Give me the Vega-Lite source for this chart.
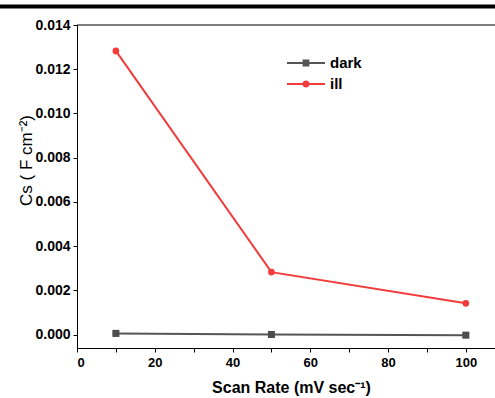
{
  "$schema": "https://vega.github.io/schema/vega-lite/v6.json",
  "width": 418,
  "height": 323,
  "autosize": {"type": "none"},
  "padding": {"left": 77, "top": 25, "right": 0, "bottom": 50},
  "background": "white",
  "config": {
    "view": {"stroke": null},
    "font": "Liberation Sans",
    "axis": {
      "domainColor": "black",
      "tickColor": "black",
      "labelColor": "black",
      "titleColor": "black",
      "grid": false,
      "labelFont": "Liberation Sans",
      "titleFont": "Liberation Sans",
      "labelFontWeight": "bold",
      "labelFontSize": 13
    }
  },
  "datasets": {
    "series": [
      {"rate": 10, "cs": 0.00006, "cond": "dark"},
      {"rate": 50, "cs": 0.00001, "cond": "dark"},
      {"rate": 100, "cs": -0.00002, "cond": "dark"},
      {"rate": 10, "cs": 0.01283, "cond": "ill"},
      {"rate": 50, "cs": 0.00283, "cond": "ill"},
      {"rate": 100, "cs": 0.00142, "cond": "ill"}
    ],
    "bar": [
      {"x1": -20, "x2": 108, "y": 0.01484, "w": "bar"},
      {"x1": 0, "x2": 107.5, "y": 0.014, "w": "frame"}
    ]
  },
  "layer": [
    {
      "data": {"name": "series"},
      "mark": {"type": "line", "strokeWidth": 2},
      "encoding": {
        "x": {
          "field": "rate", "type": "quantitative",
          "scale": {"domain": [0, 107.5], "nice": false, "zero": false},
          "axis": {
            "orient": "bottom",
            "values": [0, 10, 20, 30, 40, 50, 60, 70, 80, 90, 100],
            "labelExpr": "round(datum.value) % 20 === 0 ? datum.label : ''",
            "format": "d",
            "tickSize": 4,
            "labelPadding": 4,
            "title": "Scan Rate (mV sec⁻¹)",
            "titleFontSize": 16,
            "titleFontWeight": "bold",
            "titleX": 214,
            "titlePadding": 10,
            "encode": {
              "ticks": {"update": {"y2": {"signal": "round(datum.value) % 20 === 10 ? 2 : 4"}}}
            }
          }
        },
        "y": {
          "field": "cs", "type": "quantitative",
          "scale": {"domain": [-0.0006, 0.014], "nice": false, "zero": false},
          "axis": {
            "orient": "left",
            "values": [0, 0.001, 0.002, 0.003, 0.004, 0.005, 0.006, 0.007, 0.008, 0.009, 0.01, 0.011, 0.012, 0.013, 0.014],
            "labelExpr": "round(datum.value * 1000) % 2 === 0 ? datum.label : ''",
            "format": ".3f",
            "tickSize": 4,
            "labelPadding": 3,
            "labelFontSize": 14,
            "title": "Cs ( F cm⁻²)",
            "titleFontSize": 17,
            "titleFontWeight": "normal",
            "titleX": -51,
            "titleY": 135,
            "titleAlign": "center",
            "titleBaseline": "middle",
            "titleAngle": -90,
            "encode": {
              "ticks": {"update": {"x2": {"signal": "round(datum.value * 1000) % 2 === 1 ? -2 : -4"}}}
            }
          }
        },
        "color": {
          "field": "cond", "type": "nominal",
          "scale": {"domain": ["dark", "ill"], "range": ["#555555", "#f23b3b"]},
          "legend": {
            "orient": "none",
            "legendX": 210,
            "legendY": 31,
            "title": null,
            "labelFont": "Liberation Sans",
            "labelFontSize": 15,
            "labelFontWeight": "bold",
            "labelColor": "black",
            "labelOffset": 5,
            "symbolSize": 1444,
            "clipHeight": 14,
            "rowPadding": 6,
            "encode": {
              "symbols": {
                "update": {
                  "shape": {"signal": "datum.value === 'dark' ? 'M-1,-0.05H1V0.05H-1Z M-0.18,-0.18H0.18V0.18H-0.18Z' : 'M-1,-0.05H1V0.05H-1Z M0.19,0A0.19,0.19 0 1,1 -0.19,0A0.19,0.19 0 1,1 0.19,0Z'"},
                  "fill": {"signal": "scale('color', datum.value)"},
                  "stroke": {"value": "transparent"},
                  "strokeWidth": {"value": 0}
                }
              }
            }
          }
        }
      }
    },
    {
      "data": {"name": "series"},
      "transform": [{"filter": "datum.cond === 'dark'"}],
      "mark": {"type": "point", "filled": true, "opacity": 1, "shape": "square", "color": "#4d4d4d", "size": 50},
      "encoding": {
        "x": {"field": "rate", "type": "quantitative"},
        "y": {"field": "cs", "type": "quantitative"}
      }
    },
    {
      "data": {"name": "series"},
      "transform": [{"filter": "datum.cond === 'ill'"}],
      "mark": {"type": "point", "filled": true, "opacity": 1, "shape": "circle", "color": "#f23b3b", "size": 45},
      "encoding": {
        "x": {"field": "rate", "type": "quantitative"},
        "y": {"field": "cs", "type": "quantitative"}
      }
    },
    {
      "data": {"name": "bar"},
      "mark": {"type": "rule", "color": "black", "clip": false},
      "encoding": {
        "x": {"field": "x1", "type": "quantitative"},
        "x2": {"field": "x2"},
        "y": {"field": "y", "type": "quantitative"},
        "strokeWidth": {
          "field": "w", "type": "nominal",
          "scale": {"domain": ["bar", "frame"], "range": [4, 1]},
          "legend": null
        }
      }
    }
  ]
}
